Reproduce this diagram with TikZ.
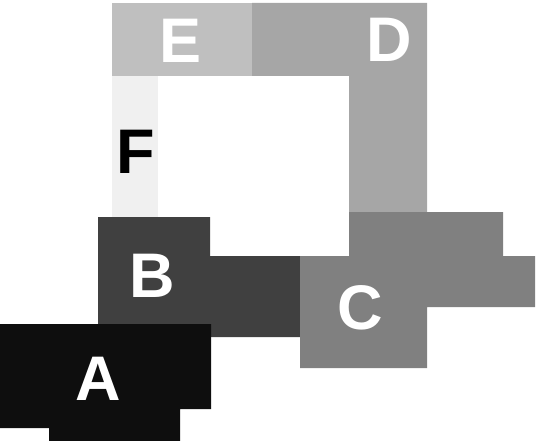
\documentclass[tikz,border=0pt]{standalone}
\usepackage{fontspec}
\setmainfont{Liberation Sans}
\usepackage{xcolor}
\definecolor{blockA}{RGB}{14,14,14}
\definecolor{blockB}{RGB}{64,64,64}
\definecolor{blockC}{RGB}{128,128,128}
\definecolor{blockD}{RGB}{166,166,166}
\definecolor{blockE}{RGB}{191,191,191}
\definecolor{blockF}{RGB}{240,240,240}

\begin{document}
\begin{tikzpicture}[
    x=1pt, y=-1pt,
    tag/.style={inner sep=0pt, text=white, font=\fontsize{63}{63}\selectfont\bfseries},
    darktag/.style={tag, text=black}
]
    \useasboundingbox (0,0) rectangle (538,441);

    % blocks, back to front
    \fill[blockF] (112,70) rectangle (158,220);
    \fill[blockE] (112,3) rectangle (252,76);
    \fill[blockD] (252,3) -| (427,215) -- (349,215) |- (252,76) -- cycle;
    \fill[blockB] (98,217) -| (210,256) -| (300,337) -- (98,337) -- cycle;
    \fill[blockC] (349,212) -| (503,256) -| (535,307) -| (427,368) -| (300,256) -| cycle;
    \fill[blockA] (0,324) -| (211,409) -| (180,441) -| (49,428) -| cycle;

    % labels
    \node[tag] (A) at (98,379) {A};
    \node[tag] (B) at (152,276) {B};
    \node[tag] (C) at (360,308) {C};
    \node[tag] (D) at (389,40) {D};
    \node[tag] (E) at (181,41) {E};
    \node[darktag] (F) at (136,152) {F};
\end{tikzpicture}
\end{document}
